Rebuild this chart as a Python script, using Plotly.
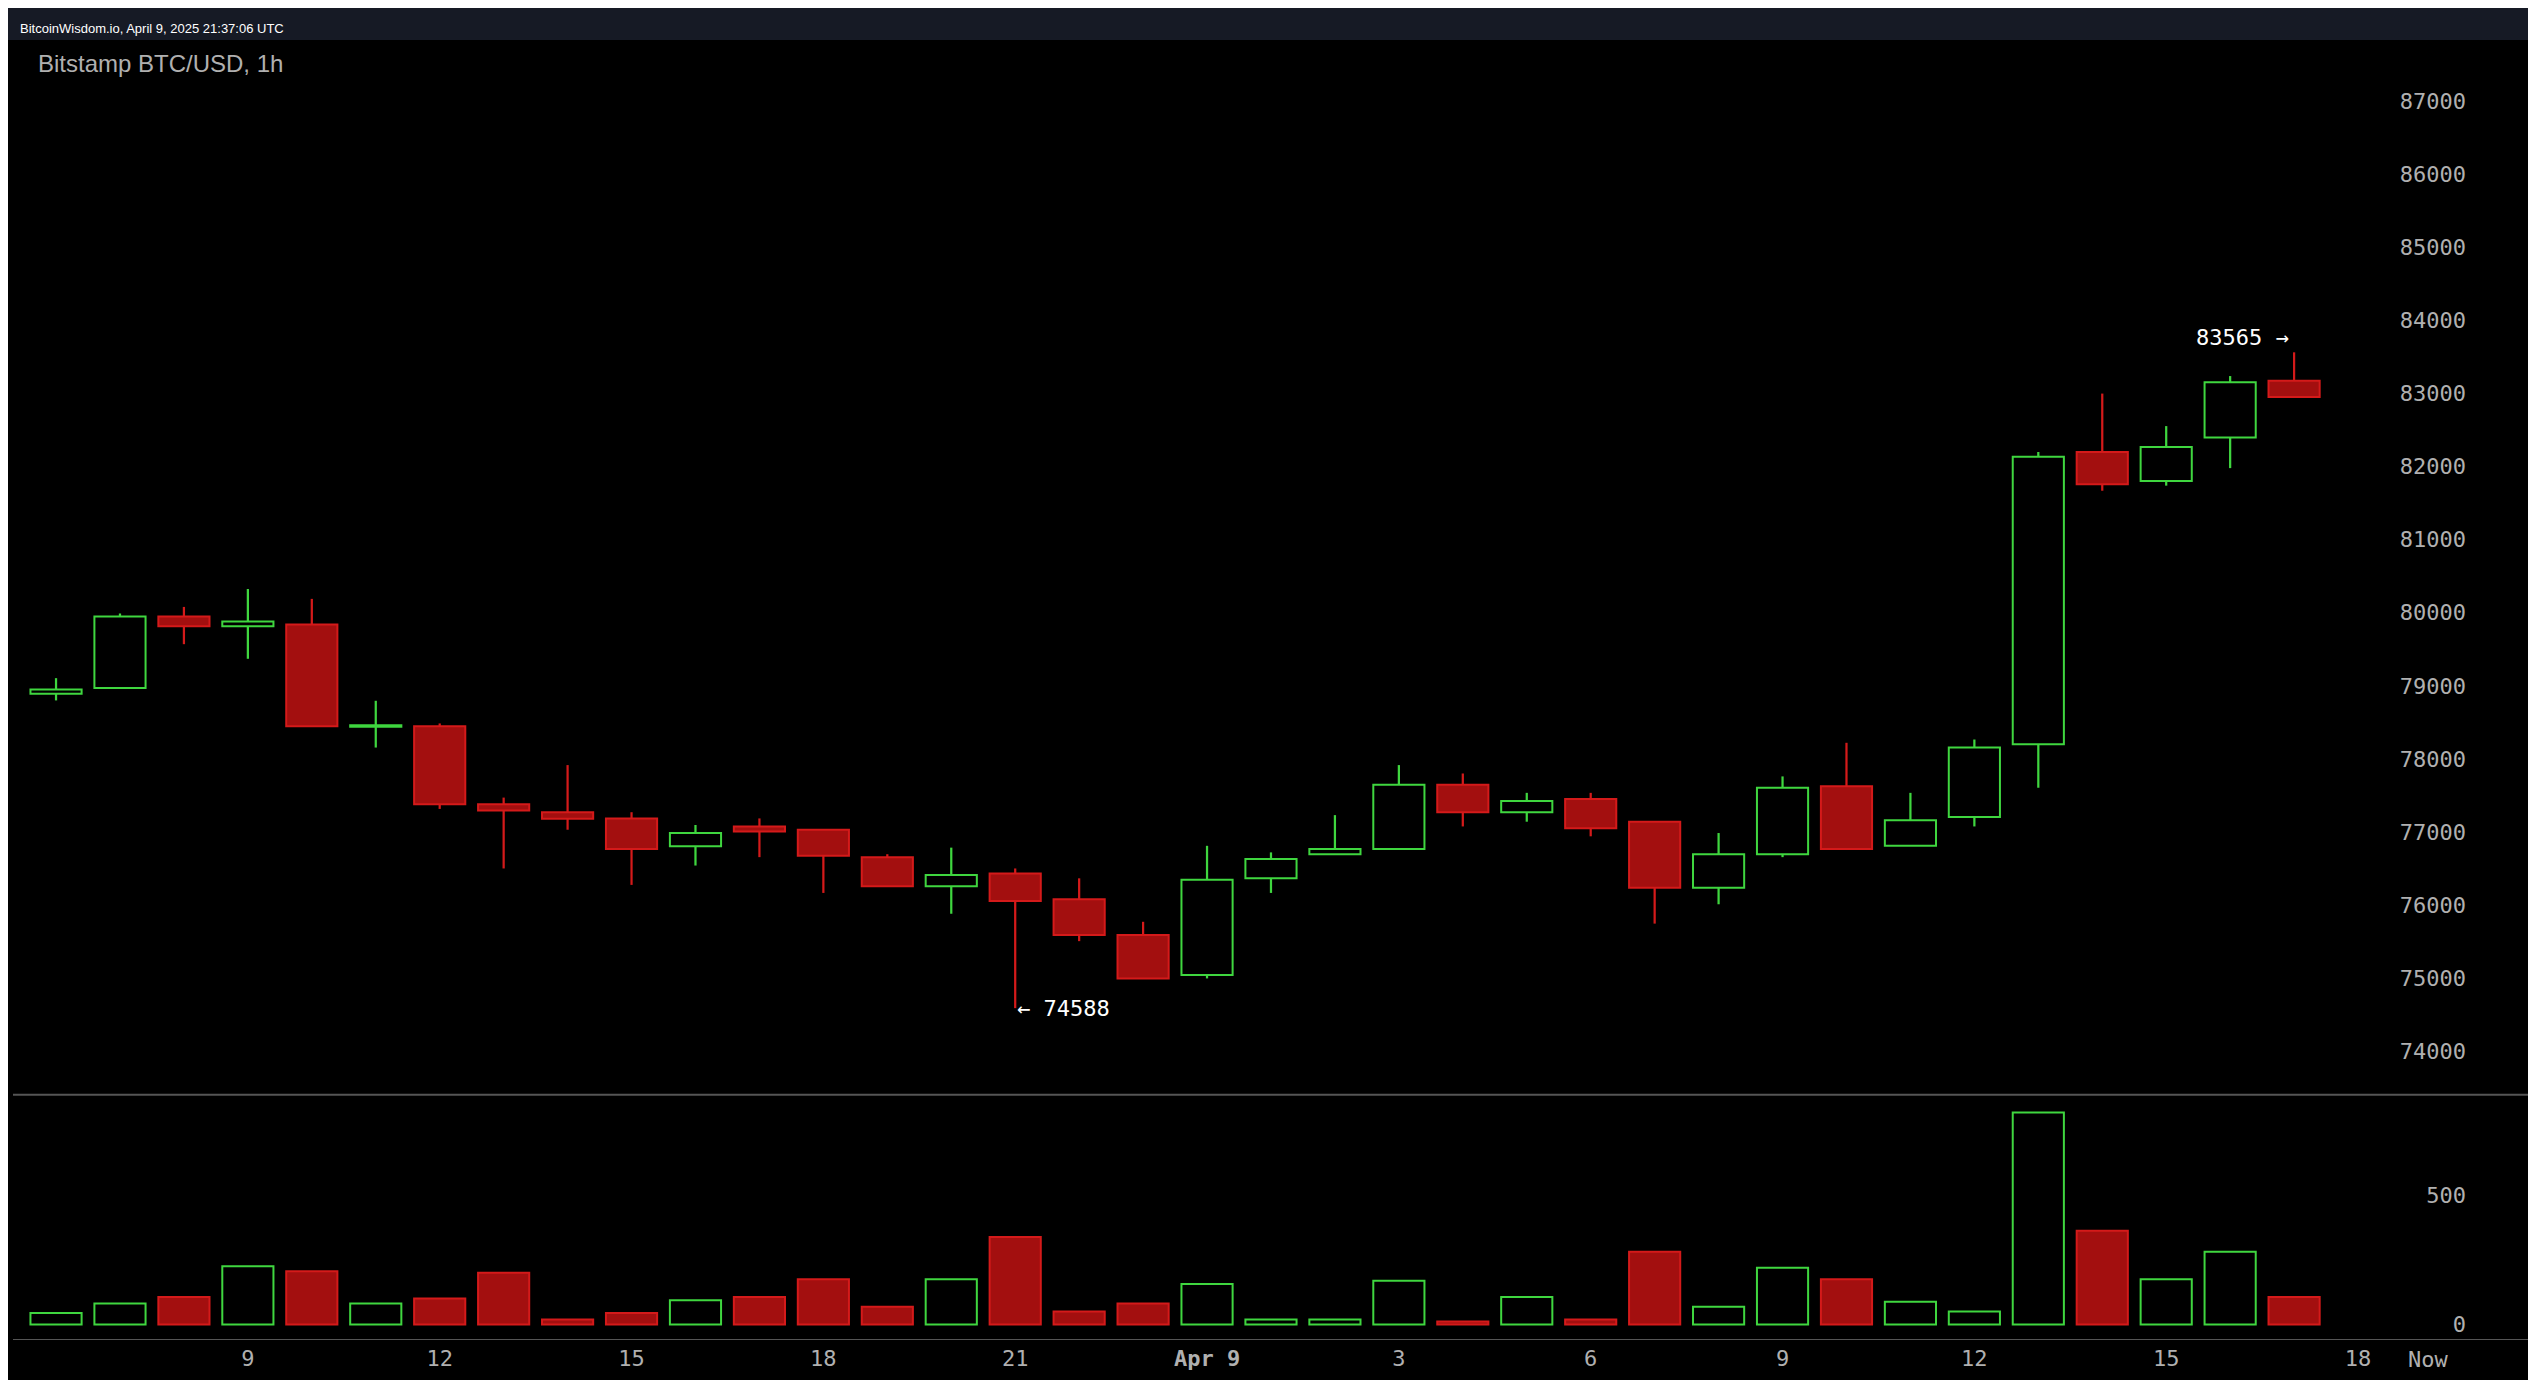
import plotly.graph_objects as go

hours = list(range(36))
opens = [78890, 78970, 79950, 79815, 79840, 78440, 78445, 77380, 77270, 77185,
         76805, 77075, 77030, 76655, 76255, 76430, 76080, 75590, 75040, 76365,
         76695, 76765, 77645, 77270, 77450, 77140, 76235, 76695, 77625, 76810,
         77205, 78200, 82200, 81805, 82400, 83175]
closes = [78950, 79950, 79815, 79880, 78445, 78460, 77380, 77295, 77180, 76765,
          76985, 77005, 76675, 76255, 76410, 76055, 75590, 74995, 76345, 76630,
          76765, 77645, 77270, 77425, 77050, 76235, 76695, 77605, 76765, 77160,
          78155, 82135, 81760, 82270, 83155, 82955]
highs = [79105, 79990, 80080, 80325, 80190, 78795, 78485, 77470, 77915, 77270,
         77095, 77185, 77030, 76695, 76785, 76500, 76365, 75770, 76810, 76720,
         77230, 77915, 77800, 77535, 77535, 77140, 76985, 77760, 78220, 77535,
         78265, 82200, 83000, 82555, 83240, 83565]
lows = [78800, 78970, 79570, 79370, 78440, 78155, 77315, 76500, 77030, 76275,
        76540, 76655, 76165, 76255, 75880, 74588, 75505, 74995, 74995, 76165,
        76695, 76765, 77075, 77140, 76940, 75745, 76010, 76655, 76765, 76810,
        77075, 77605, 81670, 81740, 81980, 82955]
volumes = [44, 81, 106, 225, 206, 81, 100, 200, 19, 44, 94, 106, 175, 69, 175,
           338, 50, 81, 156, 19, 19, 169, 12, 106, 19, 281, 69, 219, 175, 88,
           50, 819, 362, 175, 281, 106]
tick_pos = [3, 6, 9, 12, 15, 18, 21, 24, 27, 30, 33, 36]
tick_text = ["9", "12", "15", "18", "21", "<b>Apr 9</b>", "3", "6", "9", "12", "15", "18"]
price_ticks = list(range(74000, 88000, 1000))
vol_ticks = [0, 500]

GREEN = "#3fd63f"
RED_LINE = "#d41a1a"
RED_FILL = "#a30f0f"

up = [c >= o for o, c in zip(opens, closes)]
line_cols = [GREEN if u else RED_LINE for u in up]
fill_cols = ["#000000" if u else RED_FILL for u in up]
base = [min(o, c) for o, c in zip(opens, closes)]
size = [max(abs(c - o), 15) for o, c in zip(opens, closes)]

fig = go.Figure()
# wicks
fig.add_trace(go.Bar(x=hours, y=[h - l for h, l in zip(highs, lows)], base=lows,
                     width=0.035, marker=dict(color=line_cols, line_width=0),
                     xaxis="x", yaxis="y2", showlegend=False))
# bodies
fig.add_trace(go.Bar(x=hours, y=size, base=base, width=0.8,
                     marker=dict(color=fill_cols, line=dict(color=line_cols, width=2)),
                     xaxis="x", yaxis="y2", showlegend=False))
# volume
fig.add_trace(go.Bar(x=hours, y=volumes, width=0.8,
                     marker=dict(color=fill_cols, line=dict(color=line_cols, width=2)),
                     xaxis="x", yaxis="y", showlegend=False))

mono = "DejaVu Sans Mono"
tf = dict(family=mono, size=22, color="#b0b0b0")
fig.update_layout(
    width=2536, height=1380, barmode="overlay",
    paper_bgcolor="#161a25", plot_bgcolor="#000000",
    margin=dict(l=5, r=5, t=32, b=49),
    xaxis=dict(range=[-0.673, 38.83], showgrid=False, zeroline=False,
               tickvals=tick_pos, ticktext=tick_text, ticks="",
               tickfont=tf, showline=True, linecolor="#555555"),
    yaxis=dict(domain=[0, 0.188], range=[-56, 887], side="right",
               tickvals=vol_ticks, ticktext=[str(v) for v in vol_ticks],
               ticklabelposition="inside", ticklabelstandoff=70,
               showgrid=False, zeroline=False, tickfont=tf),
    yaxis2=dict(domain=[0.188, 1], range=[73402, 87840], side="right",
                tickvals=price_ticks, ticktext=[str(v) for v in price_ticks],
                ticklabelposition="inside", ticklabelstandoff=70,
                showgrid=False, zeroline=False, tickfont=tf),
    shapes=[
        dict(type="rect", xref="paper", yref="paper", x0=-0.01, x1=1.01, y0=-0.04, y1=1.0,
             fillcolor="#000000", line_width=0, layer="below"),
        dict(type="line", xref="paper", yref="paper", x0=0, x1=1, y0=0.188, y1=0.188,
             line=dict(color="#555555", width=2)),
    ],
    annotations=[
        dict(text="BitcoinWisdom.io, April 9, 2025 21:37:06 UTC", xref="paper", yref="paper",
             x=0.002, y=1.0, xanchor="left", yanchor="bottom", yshift=2, showarrow=False,
             font=dict(family="Liberation Sans", size=13, color="#ffffff")),
        dict(text="Bitstamp BTC/USD, 1h", xref="paper", yref="paper", x=0.009, y=1.0,
             xanchor="left", yanchor="top", yshift=-8, showarrow=False,
             font=dict(family="Liberation Sans", size=24, color="#b0b0b0")),
        dict(text="Now", x=37.1, xref="x", yref="paper", y=0, yanchor="top", yshift=-6,
             showarrow=False, font=tf),
        dict(text="83565 →", x=34.95, y=83565, xref="x", yref="y2", xanchor="right",
             yanchor="bottom", showarrow=False, font=dict(family=mono, size=22, color="#ffffff")),
        dict(text="← 74588", x=15.0, y=74588, xref="x", yref="y2", xanchor="left",
             yanchor="middle", showarrow=False, font=dict(family=mono, size=22, color="#ffffff")),
    ],
)

fig.write_html("out.html")
